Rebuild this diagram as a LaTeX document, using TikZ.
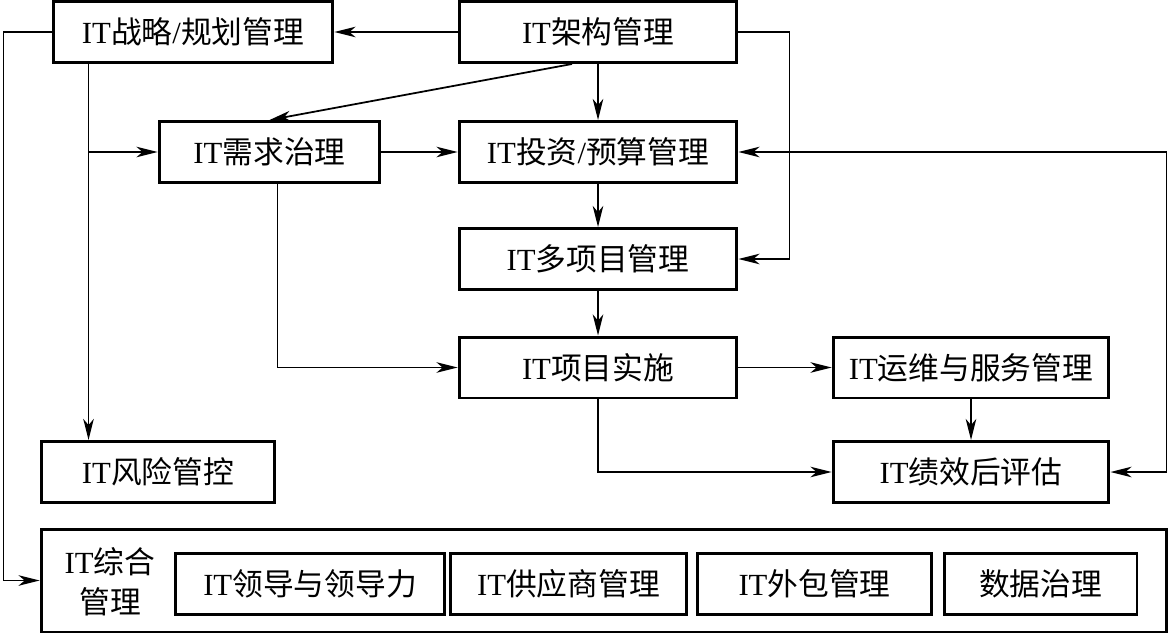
\documentclass[tikz,border=0pt]{standalone}
\usepackage{fontspec}
\setmainfont{Liberation Serif}
\newfontfamily\cjk{Noto Sans CJK SC}
\usetikzlibrary{arrows.meta}
\newcommand{\zh}[1]{{\cjk #1}}

\begin{document}
\begin{tikzpicture}[x=0.02cm, y=-0.02cm,
  box/.style={draw, line width=1.7pt, minimum height=1.22cm, inner sep=0pt,
    font=\fontsize{17.5}{22.5}\selectfont},
  link/.style={line width=1pt, >={Stealth[length=12pt,width=6pt,inset=3.5pt]}}]
  \useasboundingbox (0,0) rectangle (1169,635);

  % top rows
  \node (strat) [box, minimum width=5.6cm] at (193,32) {IT\zh{战略}/\zh{规划管理}};
  \node (arch) [box, minimum width=5.56cm] at (598,32) {IT\zh{架构管理}};
  \node (demand) [box, minimum width=4.42cm] at (269.5,152) {IT\zh{需求治理}};
  \node (invest) [box, minimum width=5.56cm] at (598,152) {IT\zh{投资}/\zh{预算管理}};
  \node (multi) [box, minimum width=5.56cm] at (598,259) {IT\zh{多项目管理}};
  \node (impl) [box, minimum width=5.56cm] at (598,367.5) {IT\zh{项目实施}};
  \node (ops) [box, minimum width=5.52cm] at (971,367.5) {IT\zh{运维与服务管理}};
  \node (perf) [box, minimum width=5.52cm] at (971,472) {IT\zh{绩效后评估}};
  \node (risk) [box, minimum width=4.68cm] at (158,472) {IT\zh{风险管控}};

  % bottom group
  \node (general) [box, minimum width=22.52cm, minimum height=2.06cm] at (604,580.5) {};
  \node (genlabel) [font=\fontsize{17.5}{22.5}\selectfont, align=center, inner sep=0pt]
    at (110,582) {IT\zh{综合}\\\zh{管理}};
  \node (lead) [box, minimum width=5.4cm] at (310,584) {IT\zh{领导与领导力}};
  \node (supp) [box, minimum width=4.74cm] at (568.5,584) {IT\zh{供应商管理}};
  \node (outs) [box, minimum width=4.7cm] at (814.5,584) {IT\zh{外包管理}};
  \node (data) [box, minimum width=3.86cm] at (1040.5,584) {\zh{数据治理}};

  % connectors
  \coordinate (sdown) at ([xshift=0.74cm]strat.south west);
  \coordinate (ddown) at ([xshift=0.16cm]demand.south);
  \draw [link,->] (arch.west) -- (strat.east);
  \draw [link,->] (strat.west) -- ++(-48,0) |- (general.west);
  \draw [link,->] (sdown) -- (sdown |- risk.north);
  \draw [link,->] (sdown |- demand.west) -- (demand.west);
  \draw [link,->] ([xshift=-0.52cm]arch.south) -- (demand.north);
  \draw [link,->] (arch.south) -- (invest.north);
  \draw [link,->] (arch.east) -- ++(51,0) |- (multi.east);
  \draw [link,->] (demand.east) -- (invest.west);
  \draw [link,->] (ddown) |- (impl.west);
  \draw [link,->] (invest.south) -- (multi.north);
  \draw [link,->] (multi.south) -- (impl.north);
  \draw [link,->] (impl.east) -- (ops.west);
  \draw [link,->] (ops.south) -- (perf.north);
  \draw [link,->] (impl.south) |- (perf.west);
  \draw [link,<->] (invest.east) -- ++(428,0) |- (perf.east);

\end{tikzpicture}
\end{document}
